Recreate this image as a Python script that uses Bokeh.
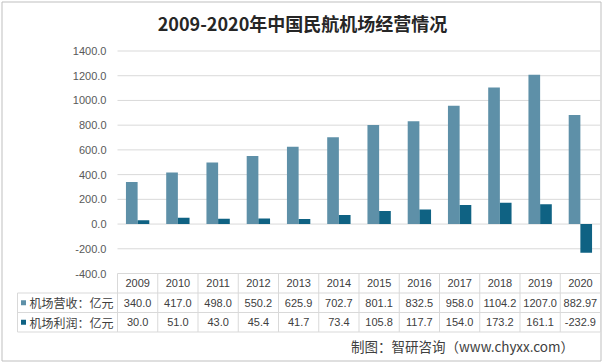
from bokeh.plotting import figure
from bokeh.models import (Range1d, FixedTicker, NumeralTickFormatter, LinearAxis,
                          ColumnDataSource, Label)
from bokeh.transform import dodge
from bokeh.core.properties import value
from bokeh.embed import file_html
from bokeh.resources import INLINE

# ---------------- data ----------------
years = ["2009", "2010", "2011", "2012", "2013", "2014",
         "2015", "2016", "2017", "2018", "2019", "2020"]
revenue = [340.0, 417.0, 498.0, 550.2, 625.9, 702.7,
           801.1, 832.5, 958.0, 1104.2, 1207.0, 882.97]
profit = [30.0, 51.0, 43.0, 45.4, 41.7, 73.4,
          105.8, 117.7, 154.0, 173.2, 161.1, -232.9]
series_names = ["机场营收：亿元", "机场利润：亿元"]
y_ticks = [-400, -200, 0, 200, 400, 600, 800, 1000, 1200, 1400]
title_text = "2009-2020年中国民航机场经营情况"
source_text = "制图：智研咨询（www.chyxx.com）"

# ---------------- style / layout (pixels) ----------------
C_REV = "#5E90A8"
C_PRO = "#0F6283"
GRID = "#D9D9D9"
TXT = "#404040"
NUM_FONT = "Liberation Sans"
CJK_FONT = "Noto Sans CJK SC"

W, H = 605, 363
N = len(years)
X0_PX = 117                 # left edge of first year column
CAT_PX = (600 - X0_PX) / N  # width of one year column
TOP_PX = 50.5               # y pixel of the highest tick
VAL_PX = 222.5 / (max(y_ticks) - min(y_ticks))  # pixels per value unit
TBL_TOP = TOP_PX + (max(y_ticks) - min(y_ticks)) * VAL_PX
ROW_PX = 19.5
LABEL_LEFT_PX = 17


def fmt(v):
    s = f"{v:.1f}"
    return s if float(s) == v else f"{v:g}"


def px_x(px):
    return (px - X0_PX) / CAT_PX


def px_y(py):
    return max(y_ticks) - (py - TOP_PX) / VAL_PX


x_range = Range1d(px_x(0), px_x(W))
y_range = Range1d(px_y(H), px_y(0))
tbl_range = Range1d((H - TBL_TOP) / ROW_PX, -TBL_TOP / ROW_PX)

p = figure(width=W, height=H, x_range=x_range, y_range=y_range,
           output_backend="svg", toolbar_location=None, min_border=0,
           x_axis_location=None, y_axis_location=None)
p.extra_y_ranges = {"tbl": tbl_range}
p.outline_line_color = None
p.background_fill_color = "white"
p.border_fill_color = "white"
p.grid.visible = False

# outer frame of the chart
p.quad(left=[px_x(1.5)], right=[px_x(600.5)], top=[px_y(1.5)], bottom=[px_y(360.5)],
       fill_color=None, line_color="#BFBFBF", line_width=1)

# value axis drawn at the left edge of the year columns
ax = LinearAxis(fixed_location=0)
ax.ticker = FixedTicker(ticks=y_ticks)
ax.formatter = NumeralTickFormatter(format="0.0")
ax.axis_line_color = None
ax.major_tick_line_color = None
ax.minor_tick_line_color = None
ax.major_tick_out = 0
ax.major_tick_in = 0
ax.major_label_standoff = 11
ax.major_label_text_font = NUM_FONT
ax.major_label_text_font_size = "11px"
ax.major_label_text_color = "#595959"
p.add_layout(ax, "left")

# gridlines over the year columns
p.segment(x0=[0] * len(y_ticks), x1=[N] * len(y_ticks), y0=y_ticks, y1=y_ticks,
          line_color=GRID, line_width=1)

# bars
centers = [i + 0.5 for i in range(N)]
src = ColumnDataSource(dict(xc=centers, year=years, revenue=revenue, profit=profit))
BW = 0.29
p.vbar(x=dodge("xc", -BW / 2), top="revenue", bottom=0, width=BW, source=src,
       fill_color=C_REV, line_color=None)
p.vbar(x=dodge("xc", BW / 2), top="profit", bottom=0, width=BW, source=src,
       fill_color=C_PRO, line_color=None)

# data table
n_rows = 1 + len(series_names)
xl = px_x(LABEL_LEFT_PX)
hy = list(range(1, n_rows + 1))
p.segment(x0=[xl] * len(hy), y0=hy, x1=[N] * len(hy), y1=hy, line_color=GRID,
          line_width=1, y_range_name="tbl")
vx = [xl] + list(range(N + 1))
vy0 = [1] + [0] * (N + 1)
p.segment(x0=vx, y0=vy0, x1=vx, y1=[n_rows] * len(vx), line_color=GRID,
          line_width=1, y_range_name="tbl")

p.text(x=centers, y=[0.5] * N, text=years, text_align="center",
       text_baseline="middle", text_font=value(NUM_FONT),
       text_font_size="11px", text_color=TXT, y_range_name="tbl")
for r, (vals, col, name) in enumerate(zip([revenue, profit], [C_REV, C_PRO], series_names)):
    yy = r + 1.5
    p.text(x=centers, y=[yy] * N, text=[fmt(v) for v in vals], text_align="center",
           text_baseline="middle", text_font=value(NUM_FONT),
           text_font_size="11px", text_color=TXT, y_range_name="tbl")
    p.rect(x=[px_x(LABEL_LEFT_PX + 6)], y=[yy], width=5, height=5, width_units="screen",
           height_units="screen", fill_color=col, line_color=None, y_range_name="tbl")
    p.text(x=[px_x(LABEL_LEFT_PX + 12)], y=[yy], text=[name], text_align="left",
           text_baseline="middle", text_font=value(CJK_FONT),
           text_font_size="12px", text_color=TXT, y_range_name="tbl")

# title and source note
p.add_layout(Label(x=302, y=H - 22.5, x_units="screen", y_units="screen",
                   text=title_text, text_align="center", text_baseline="middle",
                   text_font=CJK_FONT, text_font_size="18px",
                   text_font_style="bold", text_color="#262626"))
p.add_layout(Label(x=462, y=H - 345.7, x_units="screen", y_units="screen",
                   text=source_text, text_align="center", text_baseline="middle",
                   text_font=CJK_FONT, text_font_size="13.5px", text_color=TXT))

open("out.html", "w").write(file_html(p, INLINE))
